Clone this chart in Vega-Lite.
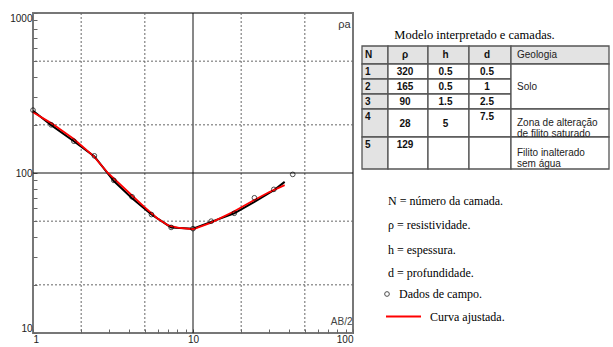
{
  "$schema": "https://vega.github.io/schema/vega-lite/v6.json",
  "background": "white",
  "padding": {"left": 8, "top": 11, "right": 0, "bottom": 0},
  "config": {"view": {"stroke": null}, "font": "Liberation Sans", "concat": {"spacing": 6}},
  "datasets": {
    "grade_x": [{"ab2": 2}, {"ab2": 5}, {"ab2": 10}, {"ab2": 20}, {"ab2": 50}],
    "grade_y": [{"rho": 20}, {"rho": 50}, {"rho": 100}, {"rho": 200}, {"rho": 500}],
    "campo": [
      {"ab2": 1, "rho": 247, "tipo": "Dados de campo."},
      {"ab2": 1.3, "rho": 200, "tipo": "Dados de campo."},
      {"ab2": 1.8, "rho": 158, "tipo": "Dados de campo."},
      {"ab2": 2.42, "rho": 128, "tipo": "Dados de campo."},
      {"ab2": 3.2, "rho": 90, "tipo": "Dados de campo."},
      {"ab2": 4.16, "rho": 71, "tipo": "Dados de campo."},
      {"ab2": 5.5, "rho": 55, "tipo": "Dados de campo."},
      {"ab2": 7.3, "rho": 45.7, "tipo": "Dados de campo."},
      {"ab2": 10, "rho": 44.9, "tipo": "Dados de campo."},
      {"ab2": 13, "rho": 50, "tipo": "Dados de campo."},
      {"ab2": 18.1, "rho": 56, "tipo": "Dados de campo."},
      {"ab2": 24.2, "rho": 70, "tipo": "Dados de campo."},
      {"ab2": 32, "rho": 79, "tipo": "Dados de campo."},
      {"ab2": 42, "rho": 98, "tipo": "Dados de campo."}
    ],
    "observada": [
      {"ab2": 1, "rho": 245},
      {"ab2": 1.3, "rho": 199},
      {"ab2": 1.8, "rho": 158},
      {"ab2": 2.42, "rho": 127},
      {"ab2": 3.2, "rho": 89},
      {"ab2": 4.16, "rho": 69.5},
      {"ab2": 5.5, "rho": 55},
      {"ab2": 7.3, "rho": 45.7},
      {"ab2": 10, "rho": 44.9},
      {"ab2": 13, "rho": 49.5},
      {"ab2": 18.1, "rho": 56},
      {"ab2": 24.2, "rho": 66},
      {"ab2": 32, "rho": 78},
      {"ab2": 37.4, "rho": 88}
    ],
    "ajustada": [
      {"ab2": 1, "rho": 240, "serie": "Curva ajustada."},
      {"ab2": 1.3, "rho": 205, "serie": "Curva ajustada."},
      {"ab2": 1.8, "rho": 163, "serie": "Curva ajustada."},
      {"ab2": 2.4, "rho": 127, "serie": "Curva ajustada."},
      {"ab2": 2.94, "rho": 100, "serie": "Curva ajustada."},
      {"ab2": 4, "rho": 75, "serie": "Curva ajustada."},
      {"ab2": 5, "rho": 61, "serie": "Curva ajustada."},
      {"ab2": 6, "rho": 52, "serie": "Curva ajustada."},
      {"ab2": 7, "rho": 47, "serie": "Curva ajustada."},
      {"ab2": 8, "rho": 45.5, "serie": "Curva ajustada."},
      {"ab2": 10, "rho": 44.5, "serie": "Curva ajustada."},
      {"ab2": 13, "rho": 49, "serie": "Curva ajustada."},
      {"ab2": 18, "rho": 57.5, "serie": "Curva ajustada."},
      {"ab2": 24, "rho": 67.5, "serie": "Curva ajustada."},
      {"ab2": 30, "rho": 76, "serie": "Curva ajustada."},
      {"ab2": 37.4, "rho": 84, "serie": "Curva ajustada."}
    ],
    "tabela": [
      {"c0": 0, "c1": 1, "r0": 0, "r1": 1, "cx": 0.5, "cy": 0.5, "t": "N", "k": "n"},
      {"c0": 1, "c1": 2, "r0": 0, "r1": 1, "cx": 1.5, "cy": 0.5, "t": "ρ", "k": "v"},
      {"c0": 2, "c1": 3, "r0": 0, "r1": 1, "cx": 2.5, "cy": 0.5, "t": "h", "k": "v"},
      {"c0": 3, "c1": 4, "r0": 0, "r1": 1, "cx": 3.5, "cy": 0.5, "t": "d", "k": "v"},
      {"c0": 4, "c1": 5, "r0": 0, "r1": 1, "cx": 4.5, "cy": 0.5, "t": "Geologia", "k": "g"},
      {"c0": 0, "c1": 1, "r0": 1, "r1": 2, "cx": 0.5, "cy": 1.5, "t": "1", "k": "n"},
      {"c0": 1, "c1": 2, "r0": 1, "r1": 2, "cx": 1.5, "cy": 1.5, "t": "320", "k": "v"},
      {"c0": 2, "c1": 3, "r0": 1, "r1": 2, "cx": 2.5, "cy": 1.5, "t": "0.5", "k": "v"},
      {"c0": 3, "c1": 4, "r0": 1, "r1": 2, "cx": 3.5, "cy": 1.5, "t": "0.5", "k": "v"},
      {"c0": 0, "c1": 1, "r0": 2, "r1": 3, "cx": 0.5, "cy": 2.5, "t": "2", "k": "n"},
      {"c0": 1, "c1": 2, "r0": 2, "r1": 3, "cx": 1.5, "cy": 2.5, "t": "165", "k": "v"},
      {"c0": 2, "c1": 3, "r0": 2, "r1": 3, "cx": 2.5, "cy": 2.5, "t": "0.5", "k": "v"},
      {"c0": 3, "c1": 4, "r0": 2, "r1": 3, "cx": 3.5, "cy": 2.5, "t": "1", "k": "v"},
      {"c0": 0, "c1": 1, "r0": 3, "r1": 4, "cx": 0.5, "cy": 3.5, "t": "3", "k": "n"},
      {"c0": 1, "c1": 2, "r0": 3, "r1": 4, "cx": 1.5, "cy": 3.5, "t": "90", "k": "v"},
      {"c0": 2, "c1": 3, "r0": 3, "r1": 4, "cx": 2.5, "cy": 3.5, "t": "1.5", "k": "v"},
      {"c0": 3, "c1": 4, "r0": 3, "r1": 4, "cx": 3.5, "cy": 3.5, "t": "2.5", "k": "v"},
      {"c0": 4, "c1": 5, "r0": 1, "r1": 4, "cx": 4.5, "cy": 2.5, "t": "Solo", "k": "g"},
      {"c0": 0, "c1": 1, "r0": 4, "r1": 5, "cx": 0.5, "cy": 4.3, "t": "4", "k": "n"},
      {"c0": 1, "c1": 2, "r0": 4, "r1": 5, "cx": 1.5, "cy": 4.55, "t": "28", "k": "v"},
      {"c0": 2, "c1": 3, "r0": 4, "r1": 5, "cx": 2.5, "cy": 4.55, "t": "5", "k": "v"},
      {"c0": 3, "c1": 4, "r0": 4, "r1": 5, "cx": 3.5, "cy": 4.3, "t": "7.5", "k": "v"},
      {"c0": 4, "c1": 5, "r0": 4, "r1": 5, "cx": 4.5, "cy": 4.5, "t": "Zona de alteração\nde filito saturado", "k": "g"},
      {"c0": 0, "c1": 1, "r0": 5, "r1": 6, "cx": 0.5, "cy": 5.25, "t": "5", "k": "n"},
      {"c0": 1, "c1": 2, "r0": 5, "r1": 6, "cx": 1.5, "cy": 5.25, "t": "129", "k": "v"},
      {"c0": 2, "c1": 3, "r0": 5, "r1": 6, "cx": 2.5, "cy": 5.25, "t": "", "k": "v"},
      {"c0": 3, "c1": 4, "r0": 5, "r1": 6, "cx": 3.5, "cy": 5.25, "t": "", "k": "v"},
      {"c0": 4, "c1": 5, "r0": 5, "r1": 6, "cx": 4.5, "cy": 5.5, "t": "Filito inalterado\nsem água", "k": "g"}
    ],
    "notas": [
      {"lx": 1, "ly": 7, "t": "N = número da camada."},
      {"lx": 1, "ly": 8, "t": "ρ  = resistividade."},
      {"lx": 1, "ly": 9, "t": " h = espessura."},
      {"lx": 1, "ly": 10, "t": "d = profundidade."}
    ]
  },
  "hconcat": [
    {
      "width": 320,
      "height": 320,
      "view": {"stroke": "#777", "strokeWidth": 2},
      "layer": [
        {
          "data": {"name": "grade_x"},
          "mark": {"type": "rule", "strokeWidth": 1},
          "encoding": {
            "x": {
              "field": "ab2", "type": "quantitative",
              "scale": {"type": "log", "domain": [1, 100], "nice": false},
              "axis": {
                "title": "AB/2", "titleX": 319, "titleY": -12, "titleAlign": "right", "titleBaseline": "middle",
                "titleFont": "Liberation Sans", "titleFontSize": 10, "titleFontWeight": "normal", "titleColor": "#444",
                "values": [1,2,3,4,5,6,7,8,9,10,20,30,40,50,60,70,80,90,100],
                "labelExpr": "datum.value == 1 || datum.value == 10 || datum.value == 100 ? '' + datum.value : ''",
                "labelFlush": true,
                "labelFont": "Liberation Sans", "labelFontSize": 10, "labelColor": "#222", "labelPadding": 5,
                "tickSize": -4, "tickWidth": 1, "tickColor": "#666", "domain": false, "grid": false
              }
            },
            "color": {"condition": {"test": "datum.ab2 == 10", "value": "#111"}, "value": "#666"},
            "strokeDash": {"condition": {"test": "datum.ab2 == 10", "value": [1, 0]}, "value": [2, 2]},
            "strokeWidth": {"condition": {"test": "datum.ab2 == 10", "value": 1.3}, "value": 1}
          }
        },
        {
          "data": {"name": "grade_y"},
          "mark": {"type": "rule", "strokeWidth": 1},
          "encoding": {
            "y": {
              "field": "rho", "type": "quantitative",
              "scale": {"type": "log", "domain": [10, 1000], "nice": false},
              "axis": {
                "title": "ρa", "titleAngle": 0, "titleX": 317, "titleY": 11, "titleAlign": "right", "titleBaseline": "middle",
                "titleFont": "Liberation Sans", "titleFontSize": 11, "titleFontWeight": "normal", "titleColor": "#333",
                "values": [10,20,30,40,50,60,70,80,90,100,200,300,400,500,600,700,800,900,1000],
                "labelExpr": "datum.value == 10 || datum.value == 100 || datum.value == 1000 ? '' + datum.value : ''",
                "labelFlush": true,
                "labelFont": "Liberation Sans", "labelFontSize": 10, "labelColor": "#222", "labelPadding": 5,
                "tickSize": -4, "tickWidth": 1, "tickColor": "#666", "domain": false, "grid": false
              }
            },
            "color": {"condition": {"test": "datum.rho == 100", "value": "#111"}, "value": "#666"},
            "strokeDash": {"condition": {"test": "datum.rho == 100", "value": [1, 0]}, "value": [2, 2]},
            "strokeWidth": {"condition": {"test": "datum.rho == 100", "value": 1.3}, "value": 1}
          }
        },
        {
          "data": {"name": "observada"},
          "mark": {"type": "line", "color": "black", "strokeWidth": 2},
          "encoding": {
            "x": {"field": "ab2", "type": "quantitative", "title": "AB/2"},
            "y": {"field": "rho", "type": "quantitative", "title": "ρa"}
          }
        },
        {
          "data": {"name": "ajustada"},
          "mark": {"type": "line", "strokeWidth": 1.8},
          "encoding": {
            "x": {"field": "ab2", "type": "quantitative", "title": "AB/2"},
            "y": {"field": "rho", "type": "quantitative", "title": "ρa"},
            "color": {
              "field": "serie", "type": "nominal",
              "scale": {"range": ["#ff0000"]},
              "legend": {
                "title": null, "orient": "none", "legendX": 352, "legendY": 285,
                "symbolType": "stroke", "symbolSize": 1225, "symbolStrokeWidth": 2, "labelOffset": 8,
                "labelFont": "Liberation Serif", "labelFontSize": 12, "labelColor": "black", "padding": 0
              }
            }
          }
        },
        {
          "data": {"name": "campo"},
          "mark": {"type": "point", "filled": false, "color": "black", "size": 22, "strokeWidth": 1},
          "encoding": {
            "x": {"field": "ab2", "type": "quantitative", "title": "AB/2"},
            "y": {"field": "rho", "type": "quantitative", "title": "ρa"},
            "shape": {
              "field": "tipo", "type": "nominal",
              "scale": {"range": ["circle"]},
              "legend": {
                "title": null, "orient": "none", "legendX": 348, "legendY": 275,
                "symbolSize": 22, "symbolStrokeColor": "black", "symbolFillColor": "transparent", "symbolStrokeWidth": 1, "labelOffset": 6,
                "labelFont": "Liberation Serif", "labelFontSize": 12, "labelColor": "black", "padding": 0
              }
            }
          }
        }
      ]
    },
    {
      "width": 247,
      "height": 320,
      "title": {
        "text": "Modelo interpretado e camadas.", "offset": -28, "dx": -11, "anchor": "middle",
        "font": "Liberation Serif", "fontSize": 12.5, "fontWeight": "normal", "color": "black"
      },
      "layer": [
        {
          "data": {"name": "tabela"},
          "mark": {"type": "rect", "stroke": "#555", "strokeWidth": 1.3},
          "encoding": {
            "x": {"field": "c0", "type": "quantitative", "scale": {"type": "linear", "domain": [0, 1, 2, 3, 4, 5], "range": [0, 26, 66, 107, 149, 247], "nice": false, "zero": false}, "axis": null},
            "x2": {"field": "c1"},
            "y": {"field": "r0", "type": "quantitative", "scale": {"type": "linear", "domain": [0, 1, 2, 3, 4, 5, 6, 7, 8, 9, 10], "range": [33, 51, 66, 81, 96, 124, 156, 188, 212, 237, 260], "nice": false, "zero": false}, "axis": null},
            "y2": {"field": "r1"},
            "fill": {"condition": {"test": "datum.c0 == 0 || datum.r0 == 0", "value": "#e3e3e3"}, "value": "white"}
          }
        },
        {
          "data": {"name": "tabela"},
          "transform": [{"filter": "datum.k == 'n'"}],
          "mark": {"type": "text", "align": "left", "baseline": "middle", "dx": 3, "font": "Liberation Sans", "fontSize": 10, "fontWeight": "bold", "color": "#111"},
          "encoding": {
            "x": {"field": "c0", "type": "quantitative"},
            "y": {"field": "cy", "type": "quantitative"},
            "text": {"field": "t"}
          }
        },
        {
          "data": {"name": "tabela"},
          "transform": [{"filter": "datum.k == 'v'"}],
          "mark": {"type": "text", "align": "center", "baseline": "middle", "dx": -3, "font": "Liberation Sans", "fontSize": 10, "fontWeight": "bold", "color": "#111"},
          "encoding": {
            "x": {"field": "cx", "type": "quantitative"},
            "y": {"field": "cy", "type": "quantitative"},
            "text": {"field": "t"}
          }
        },
        {
          "data": {"name": "tabela"},
          "transform": [{"filter": "datum.k == 'g'"}],
          "mark": {"type": "text", "align": "left", "baseline": "middle", "dx": 6, "lineBreak": "\n", "lineHeight": 11, "font": "Liberation Sans", "fontSize": 10, "color": "#222"},
          "encoding": {
            "x": {"field": "c0", "type": "quantitative"},
            "y": {"field": "cy", "type": "quantitative"},
            "text": {"field": "t"}
          }
        },
        {
          "data": {"name": "notas"},
          "mark": {"type": "text", "align": "left", "baseline": "middle", "font": "Liberation Serif", "fontSize": 12, "color": "black"},
          "encoding": {
            "x": {"field": "lx", "type": "quantitative"},
            "y": {"field": "ly", "type": "quantitative"},
            "text": {"field": "t"}
          }
        }
      ]
    }
  ]
}
